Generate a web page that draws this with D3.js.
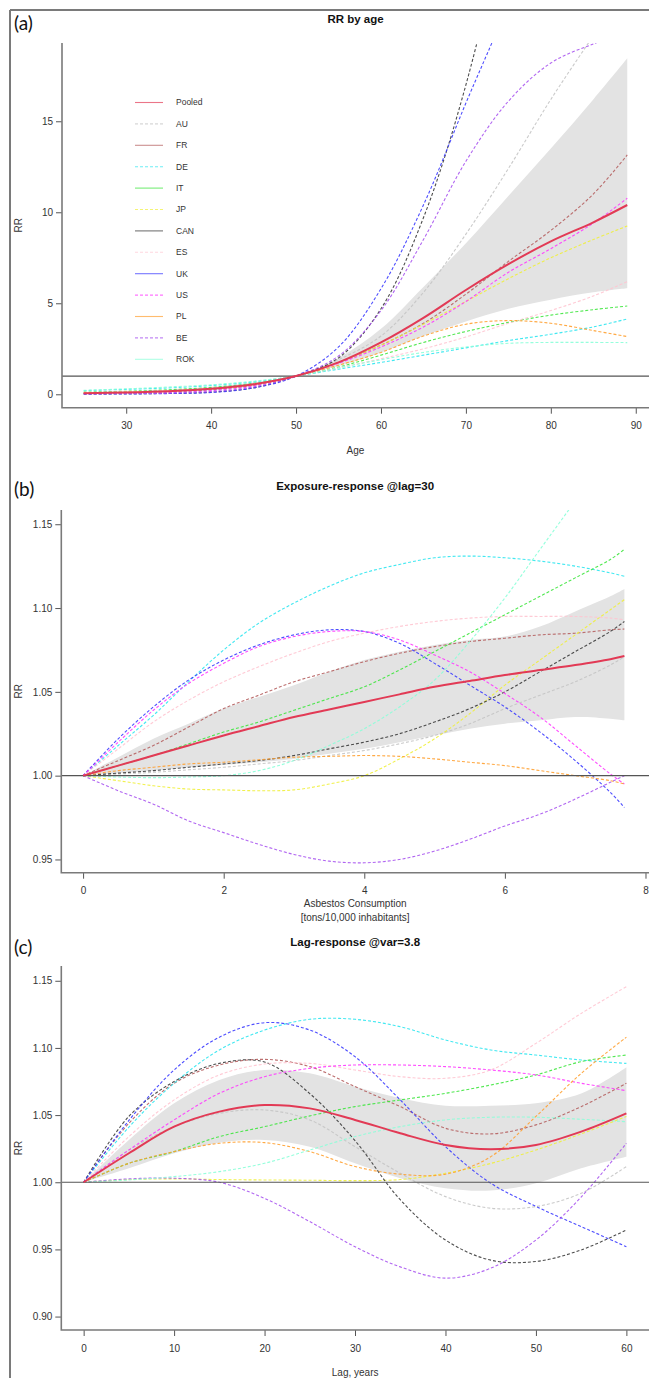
<!DOCTYPE html>
<html>
<head>
<meta charset="utf-8">
<script src="https://cdn.jsdelivr.net/npm/d3@7"></script>
<style>
  body { margin: 0; background: #fff; }
  text { font-family: "Liberation Sans", Arial, sans-serif; fill: #333; }
</style>
</head>
<body>
<svg id="chart"></svg>
<script>
let width = 649;
let height = 1378;

// series order: Pooled, then the countries
let names = ['Pooled', 'AU', 'FR', 'DE', 'IT', 'JP', 'CAN', 'ES', 'UK', 'US', 'PL', 'BE', 'ROK'];
let colors = ['#e23a55', '#c4c4c4', '#b55f5f', '#2ee6f0', '#3ee63e', '#f0f03a', '#3a3a3a',
  '#ffc4d0', '#3a3aff', '#ff3aff', '#ffa030', '#a855f0', '#8affd8'];

// (a) RR by age
let ageGrid = [25, 30, 35, 40, 45, 50, 55, 60, 65, 70, 75, 80, 85, 89];
let ageValues = [
  [0.06, 0.1, 0.17, 0.3, 0.55, 1, 1.75, 2.85, 4.2, 5.73, 7.15, 8.4, 9.45, 10.4],   // Pooled
  [0.05, 0.08, 0.13, 0.25, 0.5, 1, 1.9, 3.2, 5.6, 8.8, 12.4, 16.2, 19.7, 22.5],    // AU
  [0.04, 0.07, 0.13, 0.25, 0.5, 1, 1.75, 2.7, 3.9, 5.5, 7.3, 9.0, 11.0, 13.15],    // FR
  [0.2, 0.27, 0.35, 0.48, 0.68, 1, 1.38, 1.75, 2.15, 2.55, 2.95, 3.3, 3.7, 4.14],  // DE
  [0.12, 0.17, 0.25, 0.38, 0.6, 1, 1.5, 2.15, 2.85, 3.45, 3.95, 4.35, 4.65, 4.85], // IT
  [0.06, 0.1, 0.17, 0.3, 0.55, 1, 1.75, 2.7, 3.85, 5.1, 6.35, 7.5, 8.5, 9.25],     // JP
  [0.02, 0.03, 0.05, 0.12, 0.35, 1, 2.0, 4.7, 9.7, 17.0, 27, 40, 55, 70],          // CAN
  [0.1, 0.14, 0.2, 0.32, 0.55, 1, 1.45, 1.95, 2.5, 3.15, 3.9, 4.6, 5.4, 6.19],     // ES
  [0.01, 0.02, 0.04, 0.1, 0.35, 1, 2.6, 5.8, 10.4, 16.0, 21.5, 28, 34, 39],        // UK
  [0.03, 0.05, 0.09, 0.2, 0.45, 1, 1.7, 2.6, 3.7, 5.1, 6.7, 8.0, 9.4, 10.77],      // US
  [0.08, 0.12, 0.18, 0.3, 0.52, 1, 1.6, 2.3, 3.2, 3.85, 4.05, 3.9, 3.5, 3.17],     // PL
  [0.03, 0.04, 0.07, 0.15, 0.4, 1, 2.1, 4.6, 8.5, 12.8, 16.1, 18.2, 19.25, 19.9],  // BE
  [0.22, 0.3, 0.4, 0.52, 0.72, 1, 1.45, 1.9, 2.3, 2.6, 2.8, 2.85, 2.85, 2.84]      // ROK
];
let ageLow = [0.03, 0.06, 0.12, 0.22, 0.45, 1, 1.55, 2.3, 3.2, 4.0, 4.7, 5.2, 5.6, 5.82];
let ageHigh = [0.1, 0.15, 0.25, 0.4, 0.65, 1, 2.0, 3.6, 5.9, 8.3, 10.9, 13.5, 16.2, 18.46];
let ageXTicks = [30, 40, 50, 60, 70, 80, 90];
let ageYTicks = [0, 5, 10, 15];

// (b) exposure-response @lag=30
let expGrid = [0, 0.5, 1, 1.5, 2, 2.5, 3, 3.5, 4, 4.5, 5, 5.5, 6, 6.5, 7, 7.5, 7.7];
let expValues = [
  [1, 1.006, 1.012, 1.018, 1.024, 1.0295, 1.035, 1.0395, 1.044, 1.0485, 1.053, 1.0565, 1.060, 1.063, 1.066, 1.0695, 1.0714], // Pooled
  [1, 1.001, 1.002, 1.0035, 1.005, 1.007, 1.009, 1.012, 1.015, 1.019, 1.024, 1.031, 1.040, 1.048, 1.056, 1.066, 1.071],      // AU
  [1, 1.009, 1.018, 1.029, 1.040, 1.048, 1.056, 1.062, 1.068, 1.073, 1.077, 1.080, 1.082, 1.084, 1.085, 1.087, 1.0875],      // FR
  [1, 1.018, 1.036, 1.056, 1.075, 1.091, 1.103, 1.113, 1.121, 1.126, 1.130, 1.131, 1.130, 1.128, 1.125, 1.121, 1.119],       // DE
  [1, 1.006, 1.012, 1.019, 1.026, 1.032, 1.039, 1.046, 1.053, 1.063, 1.074, 1.085, 1.096, 1.107, 1.118, 1.129, 1.135],       // IT
  [1, 0.997, 0.994, 0.992, 0.9915, 0.991, 0.9915, 0.995, 1.000, 1.010, 1.022, 1.037, 1.054, 1.069, 1.084, 1.099, 1.105],     // JP
  [1, 1.0015, 1.003, 1.005, 1.007, 1.009, 1.012, 1.016, 1.020, 1.025, 1.032, 1.040, 1.050, 1.062, 1.074, 1.086, 1.092],      // CAN
  [1, 1.016, 1.032, 1.045, 1.056, 1.065, 1.073, 1.080, 1.085, 1.089, 1.092, 1.094, 1.095, 1.095, 1.095, 1.094, 1.093],       // ES
  [1, 1.022, 1.041, 1.057, 1.069, 1.078, 1.084, 1.087, 1.086, 1.079, 1.067, 1.054, 1.041, 1.026, 1.009, 0.990, 0.981],       // UK
  [1, 1.020, 1.039, 1.055, 1.067, 1.077, 1.083, 1.086, 1.086, 1.081, 1.072, 1.062, 1.049, 1.035, 1.018, 1.001, 0.995],       // US
  [1, 1.003, 1.005, 1.007, 1.008, 1.0095, 1.011, 1.0115, 1.012, 1.0115, 1.010, 1.008, 1.006, 1.003, 1.000, 0.997, 0.995],    // PL
  [1, 0.991, 0.983, 0.973, 0.966, 0.959, 0.953, 0.949, 0.948, 0.950, 0.955, 0.962, 0.970, 0.977, 0.986, 0.996, 1.000],       // BE
  [1, 0.9992, 0.9988, 0.9992, 1.000, 1.003, 1.009, 1.018, 1.028, 1.041, 1.057, 1.080, 1.106, 1.135, 1.164, 1.195, 1.208]     // ROK
];
let expLow = [1, 1.0015, 1.003, 1.005, 1.0064, 1.008, 1.010, 1.013, 1.016, 1.020, 1.024, 1.028, 1.031, 1.033, 1.035, 1.034, 1.033];
let expHigh = [1, 1.011, 1.022, 1.031, 1.040, 1.047, 1.054, 1.062, 1.069, 1.074, 1.078, 1.081, 1.083, 1.089, 1.098, 1.107, 1.1114];
let expXTicks = [0, 2, 4, 6, 8];
let expYTicks = [0.95, 1.00, 1.05, 1.10, 1.15];

// (c) lag-response @var=3.8
let lagGrid = [0, 5, 10, 15, 20, 25, 30, 35, 40, 45, 50, 55, 60];
let lagValues = [
  [1, 1.0216, 1.0414, 1.0526, 1.0575, 1.055, 1.0464, 1.0365, 1.0278, 1.0246, 1.0278, 1.0377, 1.0513], // Pooled
  [1, 1.024, 1.0414, 1.0513, 1.0538, 1.0464, 1.0265, 1.0067, 0.9893, 0.9807, 0.9819, 0.9918, 1.0117], // AU
  [1, 1.0439, 1.0737, 1.0873, 1.0915, 1.0861, 1.0712, 1.0563, 1.0402, 1.036, 1.0427, 1.0563, 1.0737], // FR
  [1, 1.041, 1.0737, 1.0985, 1.1133, 1.1213, 1.1213, 1.1158, 1.1059, 1.0985, 1.0947, 1.091, 1.0885],  // DE
  [1, 1.0141, 1.0228, 1.034, 1.0414, 1.0494, 1.0563, 1.0613, 1.0662, 1.0724, 1.0799, 1.0898, 1.0947], // IT
  [1, 1.002, 1.0025, 1.002, 1.0017, 1.0015, 1.0012, 1.002, 1.0067, 1.014, 1.024, 1.036, 1.049],       // JP
  [1, 1.049, 1.075, 1.0885, 1.0895, 1.066, 1.031, 0.987, 0.957, 0.942, 0.941, 0.9496, 0.9645],       // CAN
  [1, 1.034, 1.0613, 1.0799, 1.088, 1.0885, 1.0836, 1.0786, 1.0774, 1.0836, 1.1034, 1.1257, 1.1456],  // ES
  [1, 1.046, 1.0836, 1.108, 1.1188, 1.1133, 1.0935, 1.0613, 1.0265, 0.9993, 0.982, 0.967, 0.952],     // UK
  [1, 1.024, 1.0464, 1.0662, 1.0786, 1.0848, 1.0873, 1.0873, 1.0861, 1.0836, 1.0799, 1.0737, 1.0682], // US
  [1, 1.0141, 1.0228, 1.029, 1.0295, 1.0228, 1.0117, 1.006, 1.006, 1.019, 1.049, 1.081, 1.108],       // PL
  [1, 1.0025, 1.003, 1.0, 0.988, 0.9707, 0.952, 0.937, 0.9286, 0.936, 0.957, 0.989, 1.029],          // BE
  [1, 1.0017, 1.0042, 1.0079, 1.0141, 1.024, 1.034, 1.0414, 1.0464, 1.0484, 1.0484, 1.0469, 1.0451]  // ROK
];
let lagLow = [1, 1.0104, 1.0216, 1.0295, 1.0315, 1.0265, 1.0141, 1.003, 0.9955, 0.9938, 0.9993, 1.0104, 1.019];
let lagHigh = [1, 1.0315, 1.0588, 1.0761, 1.0836, 1.0811, 1.0712, 1.0625, 1.057, 1.057, 1.0588, 1.066, 1.0856];
let lagXTicks = [0, 10, 20, 30, 40, 50, 60];
let lagYTicks = [0.90, 0.95, 1.00, 1.05, 1.10, 1.15];

let svg = d3.select('#chart').attr('width', width).attr('height', height);

// outer frame (left + top)
svg.append('line').attr('x1', 10).attr('y1', 10).attr('x2', 10).attr('y2', height)
  .attr('stroke', '#7a7a7a').attr('stroke-width', 2);
svg.append('line').attr('x1', 10).attr('y1', 10).attr('x2', width).attr('y2', 10)
  .attr('stroke', '#7a7a7a').attr('stroke-width', 2);

let drawPanel = (p) => {
  let g = svg.append('g');
  let xScale = d3.scaleLinear().domain(p.xDomain).range([p.left, p.right]);
  let yScale = d3.scaleLinear().domain(p.yDomain).range([p.bottom, p.top]);

  let clipId = 'clip-' + p.id;
  g.append('clipPath').attr('id', clipId).append('rect')
    .attr('x', p.left).attr('y', p.top)
    .attr('width', p.right - p.left).attr('height', p.bottom - p.top);

  let plot = g.append('g').attr('clip-path', 'url(#' + clipId + ')');

  // confidence band
  let area = d3.area()
    .x((d, i) => xScale(p.grid[i]))
    .y0((d, i) => yScale(p.low[i]))
    .y1((d, i) => yScale(p.high[i]))
    .curve(d3.curveCatmullRom.alpha(0.5));
  plot.append('path').datum(p.low).attr('d', area).attr('fill', '#e3e3e3');

  let line = d3.line()
    .x((d, i) => xScale(p.grid[i]))
    .y((d) => yScale(d))
    .curve(d3.curveCatmullRom.alpha(0.5));

  // countries, dashed
  for (let k = 1; k < names.length; k++) {
    plot.append('path').datum(p.values[k]).attr('d', line)
      .attr('fill', 'none').attr('stroke', colors[k]).attr('stroke-width', 1.1)
      .attr('stroke-opacity', 0.9).attr('stroke-dasharray', '3,2');
  }

  // reference line RR = 1
  plot.append('line').attr('x1', p.left).attr('x2', p.right)
    .attr('y1', yScale(1)).attr('y2', yScale(1))
    .attr('stroke', '#555').attr('stroke-width', 1.2);

  // pooled
  plot.append('path').datum(p.values[0]).attr('d', line)
    .attr('fill', 'none').attr('stroke', colors[0]).attr('stroke-width', 2);

  // axes
  let xAxis = d3.axisBottom(xScale).tickValues(p.xTicks).tickSize(6).tickSizeOuter(0)
    .tickFormat(p.xFormat);
  let yAxis = d3.axisLeft(yScale).tickValues(p.yTicks).tickSize(6).tickSizeOuter(0)
    .tickFormat(p.yFormat);

  let gx = g.append('g').attr('transform', 'translate(0,' + p.bottom + ')').call(xAxis);
  let gy = g.append('g').attr('transform', 'translate(' + p.left + ',0)').call(yAxis);
  [gx, gy].forEach((a) => {
    a.select('.domain').remove();
    a.selectAll('line').attr('stroke', '#555');
    a.selectAll('text').style('font-size', '10px').style('fill', '#333');
  });
  gx.selectAll('text').attr('dy', '1.25em');

  // L-shaped box
  g.append('path')
    .attr('d', 'M' + p.left + ',' + p.top + 'V' + p.bottom + 'H' + width)
    .attr('fill', 'none').attr('stroke', '#7a7a7a').attr('stroke-width', 1.6);

  // titles
  g.append('text').attr('x', (p.left + width) / 2).attr('y', p.titleY)
    .attr('text-anchor', 'middle').style('font-size', '11.5px').style('font-weight', 'bold')
    .style('fill', '#111').text(p.title);
  g.append('text').attr('x', 14).attr('y', p.tagY)
    .style('font-family', 'Lato, "Open Sans", sans-serif').style('font-size', '19px')
    .style('fill', '#111').text(p.tag);
  g.append('text').attr('transform', 'translate(22,' + ((p.top + p.bottom) / 2) + ') rotate(-90)')
    .attr('text-anchor', 'middle').style('font-size', '10px').text('RR');
  p.xLabel.forEach((t, i) => {
    g.append('text').attr('x', (p.left + width) / 2).attr('y', p.xLabelY + i * 13.5)
      .attr('text-anchor', 'middle').style('font-size', '10px').text(t);
  });

  return { xScale, yScale };
};

drawPanel({
  id: 'a', tag: '(a)', tagY: 30, title: 'RR by age', titleY: 23,
  left: 62, right: width, top: 43, bottom: 407.7,
  xDomain: [22.44, 91.56], yDomain: [-0.737, 19.30],
  grid: ageGrid, values: ageValues, low: ageLow, high: ageHigh,
  xTicks: ageXTicks, yTicks: ageYTicks, xFormat: d3.format('d'), yFormat: d3.format('d'),
  xLabel: ['Age'], xLabelY: 454
});

drawPanel({
  id: 'b', tag: '(b)', tagY: 496, title: 'Exposure-response @lag=30', titleY: 490,
  left: 61.3, right: width, top: 510, bottom: 872.7,
  xDomain: [-0.31, 8.05], yDomain: [0.9421, 1.1585],
  grid: expGrid, values: expValues, low: expLow, high: expHigh,
  xTicks: expXTicks, yTicks: expYTicks, xFormat: d3.format('d'), yFormat: d3.format('.2f'),
  xLabel: ['Asbestos Consumption', '[tons/10,000 inhabitants]'], xLabelY: 907
});

drawPanel({
  id: 'c', tag: '(c)', tagY: 954, title: 'Lag-response @var=3.8', titleY: 946,
  left: 61.3, right: width, top: 966, bottom: 1330,
  xDomain: [-2.47, 62.5], yDomain: [0.890, 1.161],
  grid: lagGrid, values: lagValues, low: lagLow, high: lagHigh,
  xTicks: lagXTicks, yTicks: lagYTicks, xFormat: d3.format('d'), yFormat: d3.format('.2f'),
  xLabel: ['Lag, years'], xLabelY: 1376
});

// legend in panel (a)
let legend = svg.append('g');
names.forEach((n, i) => {
  let y = 102.5 + i * 21.4;
  legend.append('line').attr('x1', 135).attr('x2', 163).attr('y1', y).attr('y2', y)
    .attr('stroke', colors[i]).attr('stroke-opacity', 0.7).attr('stroke-width', 1.1)
    .attr('stroke-dasharray', i % 2 === 1 ? '3,2' : null);
  legend.append('text').attr('x', 176).attr('y', y).attr('dy', '0.35em')
    .style('font-size', '8.5px').text(n);
});
</script>
</body>
</html>
